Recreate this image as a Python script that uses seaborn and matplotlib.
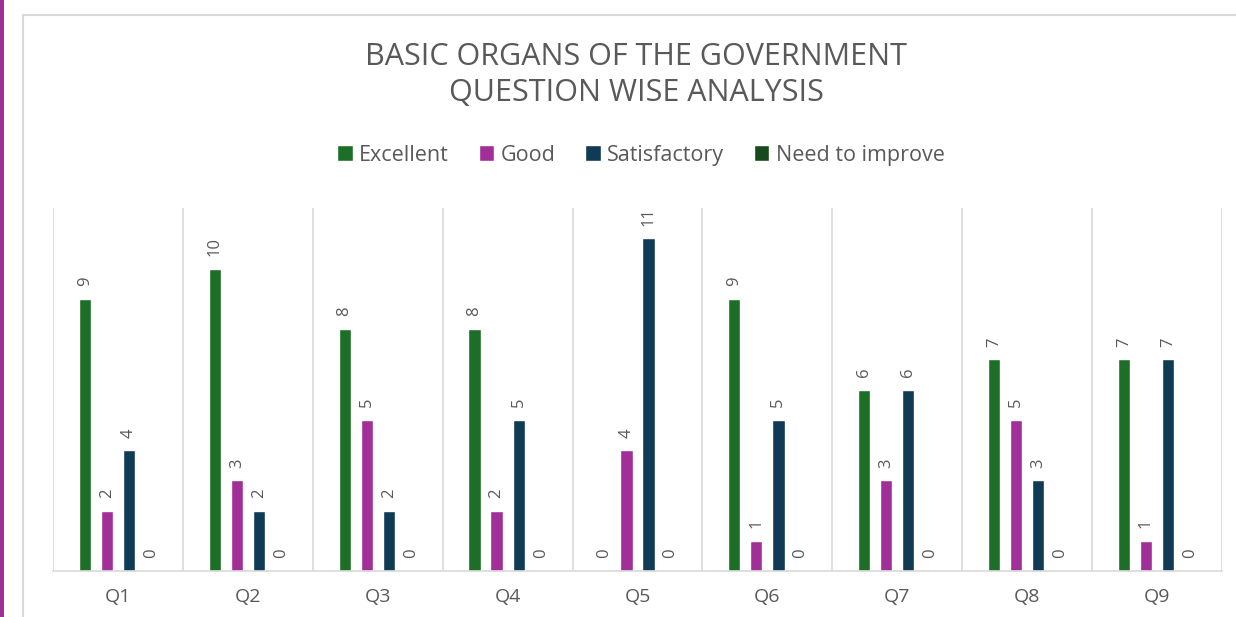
import pandas as pd
import seaborn as sns
import matplotlib.pyplot as plt
from matplotlib.patches import Rectangle

questions = ['Q1', 'Q2', 'Q3', 'Q4', 'Q5', 'Q6', 'Q7', 'Q8', 'Q9']
ratings = ['Excellent', 'Good', 'Satisfactory', 'Need to improve']
excellent = [9, 10, 8, 8, 0, 9, 6, 7, 7]
good = [2, 3, 5, 2, 4, 1, 3, 5, 1]
satisfactory = [4, 2, 2, 5, 11, 5, 6, 3, 7]
need_to_improve = [0, 0, 0, 0, 0, 0, 0, 0, 0]

colors = ['#1D6E27', '#A02F98', '#0F3B54', '#174A1C']
grey = '#595959'
line_grey = '#D9D9D9'

rows = []
for name, vals in zip(ratings, [excellent, good, satisfactory, need_to_improve]):
    for q, v in zip(questions, vals):
        rows.append([q, name, v])
df = pd.DataFrame(rows, columns=['Question', 'Rating', 'Count'])

sns.set_style('white')
plt.rcParams['font.family'] = ['Open Sans', 'DejaVu Sans']

fig = plt.figure(figsize=(12.36, 6.17), dpi=100)
ax = fig.add_axes([53 / 1236, 1 - 571 / 617, (1222 - 53) / 1236, (571 - 208) / 617])

sns.barplot(data=df, x='Question', y='Count', hue='Rating', hue_order=ratings,
            palette=colors, width=0.68, gap=0.45, ax=ax, saturation=1)

for cont in ax.containers:
    ax.bar_label(cont, rotation=90, padding=9, color=grey, fontsize=12)

ax.set_xlim(-0.5, 8.5)
ax.set_ylim(0, 12)
ax.set_yticks([])
ax.set_xlabel('')
ax.set_ylabel('')
ax.set_xticks(range(len(questions)))
ax.set_xticklabels(questions, color=grey, fontsize=14)
ax.tick_params(axis='x', length=0, pad=12)
ax.set_xticks([i - 0.5 for i in range(len(questions) + 1)], minor=True)
ax.grid(True, which='minor', axis='x', color=line_grey, lw=1.2)
ax.grid(False, which='major')
for s in ['top', 'right', 'left']:
    ax.spines[s].set_visible(False)
ax.spines['bottom'].set_color(line_grey)
ax.spines['bottom'].set_linewidth(1.2)

sns.move_legend(ax, 'center', bbox_to_anchor=(0.503, 1.146), ncol=4, frameon=False,
                title=None, fontsize=15.5, handlelength=0.7, handleheight=0.7,
                handletextpad=0.3, columnspacing=1.4)
for t in ax.get_legend().get_texts():
    t.set_color(grey)

fig.text(636 / 1236, 1 - 75 / 617, 'BASIC ORGANS OF THE GOVERNMENT\nQUESTION WISE ANALYSIS',
         ha='center', va='center', fontsize=22, color=grey, linespacing=1.25)

# outer frame and left accent line
fig.add_artist(Rectangle((23 / 1236, -0.1), 1.2, 1.1 - 15 / 617, transform=fig.transFigure,
                         fill=False, edgecolor=line_grey, lw=1.5))
fig.add_artist(Rectangle((0, 0), 4 / 1236, 1, transform=fig.transFigure,
                         color='#A02F98', lw=0))

fig.savefig('out.png', dpi=100)
